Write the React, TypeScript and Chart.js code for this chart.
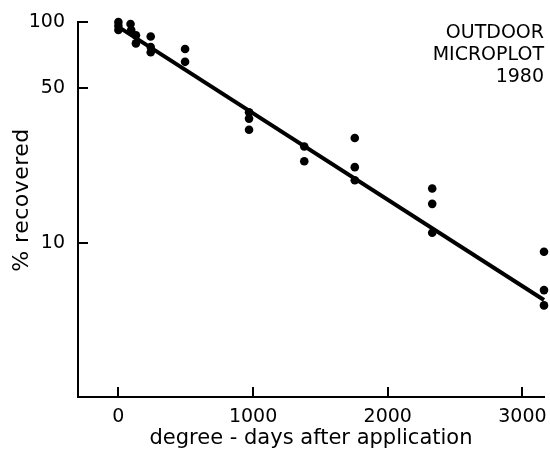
import React, { useEffect, useRef } from "react";
import { Chart, registerables } from "chart.js";

Chart.register(...registerables);

// Observed data: degree-days after application vs % recovered
const dayValues = [
  0, 0, 0, 90, 95, 130, 130, 240, 240, 240,
  495, 495,
  970, 970, 970,
  1380, 1380,
  1755, 1755, 1755,
  2330, 2330, 2330,
  3160, 3160, 3160,
];
const recoveredValues = [
  100, 96, 92, 98, 92, 87, 80, 86, 77, 73,
  75.5, 66,
  39, 36.5, 32.5,
  27.3, 23.4,
  29.8, 22, 19.2,
  17.6, 15, 11.1,
  9.1, 6.1, 5.2,
];

// Fitted regression line end points
const fitDays = [0, 3160];
const fitRecovered = [95, 5.5];

const xTickValues = [0, 1000, 2000, 3000];
const yTickValues = [10, 50, 100];
const xTitle = "degree - days after application";
const yTitle = "% recovered";
const noteLines = ["OUTDOOR", "MICROPLOT", "1980"];

const FONT = "'DejaVu Sans', sans-serif";

const decorPlugin = {
  id: "decor",
  afterDraw(chart: any) {
    const ctx = chart.ctx as CanvasRenderingContext2D;
    const xs = chart.scales.x;
    const ys = chart.scales.y;
    const area = chart.chartArea;
    ctx.save();
    ctx.strokeStyle = "#000";
    ctx.lineWidth = 2;
    ctx.beginPath();
    for (const v of yTickValues) {
      const y = Math.round(ys.getPixelForValue(v));
      ctx.moveTo(area.left, y);
      ctx.lineTo(area.left + 10, y);
    }
    for (const v of xTickValues) {
      const x = Math.round(xs.getPixelForValue(v));
      ctx.moveTo(x, area.bottom);
      ctx.lineTo(x, area.bottom - 10);
    }
    ctx.stroke();

    ctx.fillStyle = "#000";
    // x title
    ctx.font = `21px ${FONT}`;
    ctx.textAlign = "center";
    ctx.textBaseline = "alphabetic";
    ctx.fillText(xTitle, (area.left + area.right) / 2, 444);

    // y title
    ctx.save();
    ctx.font = `22px ${FONT}`;
    ctx.translate(28, 200);
    ctx.rotate(-Math.PI / 2);
    ctx.textAlign = "center";
    (ctx as any).letterSpacing = "0.5px";
    ctx.fillText(yTitle, 0, 0);
    ctx.restore();

    // annotation
    ctx.font = `19px ${FONT}`;
    ctx.textAlign = "right";
    ctx.textBaseline = "alphabetic";
    noteLines.forEach((t, i) => {
      ctx.fillText(t, area.right, 38 + i * 22);
    });
    ctx.restore();
  },
};

export default function App() {
  const canvasRef = useRef<HTMLCanvasElement | null>(null);

  useEffect(() => {
    document.body.style.margin = "0";
    const canvas = canvasRef.current;
    if (!canvas) return;
    const points = dayValues.map((d, i) => ({ x: d, y: recoveredValues[i] }));
    const fit = fitDays.map((d, i) => ({ x: d, y: fitRecovered[i] }));

    const chart = new Chart(canvas, {
      type: "scatter",
      data: {
        datasets: [
          {
            type: "line",
            data: fit,
            borderColor: "#000",
            borderWidth: 4,
            pointRadius: 0,
            showLine: true,
            clip: false,
          } as any,
          {
            type: "scatter",
            data: points,
            backgroundColor: "#000",
            borderColor: "#000",
            pointRadius: 4.3,
            borderWidth: 0,
            clip: false,
          } as any,
        ],
      },
      options: {
        animation: false,
        responsive: false,
        layout: { padding: { top: 22, right: 6, left: 0, bottom: 0 } },
        plugins: {
          legend: { display: false },
          tooltip: { enabled: false },
          title: { display: false },
        },
        scales: {
          x: {
            type: "linear",
            min: -300,
            max: 3160,
            grid: { display: false },
            border: { display: true, color: "#000", width: 2 },
            afterBuildTicks: (scale: any) => {
              scale.ticks = xTickValues.map((v) => ({ value: v }));
            },
            afterFit: (scale: any) => {
              scale.height = 52;
            },
            ticks: {
              color: "#000",
              font: { family: FONT, size: 19 },
              padding: 1,
              maxRotation: 0,
              callback: (v: any) => String(v),
            },
          },
          y: {
            type: "logarithmic",
            min: 2,
            max: 100,
            grid: { display: false },
            border: { display: true, color: "#000", width: 2 },
            afterBuildTicks: (scale: any) => {
              scale.ticks = yTickValues.map((v) => ({ value: v }));
            },
            afterFit: (scale: any) => {
              scale.width = 78;
            },
            ticks: {
              color: "#000",
              font: { family: FONT, size: 19 },
              padding: 5,
              callback: (v: any) => String(v),
            },
          },
        },
      } as any,
      plugins: [decorPlugin],
    });
    return () => chart.destroy();
  }, []);

  return (
    <div style={{ width: 550, height: 449 }}>
      <canvas ref={canvasRef} width={550} height={449} style={{ display: "block" }} />
    </div>
  );
}
